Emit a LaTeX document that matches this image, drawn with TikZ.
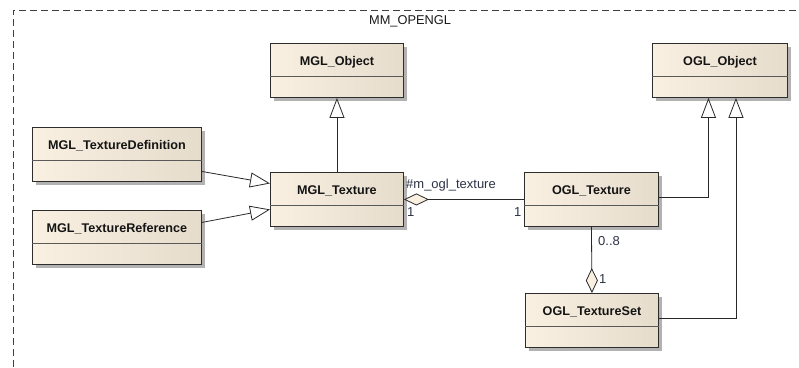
\documentclass[tikz,border=0pt]{standalone}
\usepackage{fontspec}
\setmainfont{Liberation Sans}
\usetikzlibrary{arrows.meta,shadows,calc}

\definecolor{creamL}{RGB}{249,240,226}
\definecolor{creamM}{RGB}{251,245,235}
\definecolor{creamR}{RGB}{230,220,204}
\definecolor{edge}{RGB}{45,45,45}
\definecolor{wire}{RGB}{40,40,40}
\definecolor{labelink}{RGB}{45,50,70}

\tikzset{
  umlbox/.style={draw=edge, line width=0.9pt, rectangle, anchor=north west,
    left color=creamL, middle color=creamM, right color=creamR, shading angle=90,
    minimum width=#1, minimum height=54pt, inner sep=0pt,
    drop shadow={shadow xshift=3.5pt, shadow yshift=-3.5pt, fill=black!30, opacity=1}},
  umlbox/.default=133pt,
  clsname/.style={font=\bfseries\fontsize{12.6}{14}\selectfont, text=black!92, inner sep=0pt},
  divider/.style={draw=black!65, line width=0.9pt},
  wireline/.style={draw=wire, line width=0.8pt},
  gen/.style={wireline, -{Triangle[open, length=20pt, width=15pt, fill=white]}},
  agg/.style={wireline, {Diamond[open, length=25pt, width=12pt, fill=creamL]}-},
  role/.style={font=\fontsize{13}{15}\selectfont, text=labelink, inner sep=0pt},
  frame/.style={draw=black!75, line width=0.8pt, dash pattern=on 7pt off 4pt},
}

\begin{document}
\begin{tikzpicture}[x=1pt, y=-1pt]
  \useasboundingbox (0,0) rectangle (799,367);

  % package frame (runs past the right and bottom edges)
  \draw[frame] (13,367) -- (13,10) -- (805,10);
  \node[font=\fontsize{12.8}{15}\selectfont, text=black!90, inner sep=0pt] (pkg) at (410,21) {MM\_OPENGL};

  % classes
  \node[umlbox] (mglobj) at (270,43) {};
  \node[umlbox=135pt] (oglobj) at (652,43) {};
  \node[umlbox=169pt] (mgldef) at (32,127) {};
  \node[umlbox=169pt] (mglref) at (32,210) {};
  \node[umlbox] (mgltex) at (270,172) {};
  \node[umlbox=134pt] (ogltex) at (524,172) {};
  \node[umlbox=133pt] (ogltexset) at (525,293) {};

  % name compartments
  \foreach \c/\t in {mglobj/MGL\_Object, oglobj/OGL\_Object, mgldef/MGL\_TextureDefinition,
                     mglref/MGL\_TextureReference, mgltex/MGL\_Texture, ogltex/OGL\_Texture,
                     ogltexset/OGL\_TextureSet}{
    \draw[divider] ($(\c.north west)+(0,33)$) -- ($(\c.north east)+(0,33)$);
    \node[clsname] (\c-name) at ($(\c.north)+(0,19)$) {\t};
  }

  % generalizations
  \draw[gen] (mgltex.north) -- (mglobj.south);
  \draw[gen] ([yshift=-17pt]mgldef.east) -- ([yshift=16pt]mgltex.west);
  \draw[gen] ([yshift=15pt]mglref.east) -- ([yshift=-10pt]mgltex.west);
  \draw[gen] ([yshift=2pt]ogltex.east) -| ([xshift=-11.5pt]oglobj.south);
  \draw[gen] ([yshift=2pt]ogltexset.east) -| ([xshift=16pt]oglobj.south);

  % aggregations
  \draw[agg] (mgltex.east) -- (ogltex.west);
  \draw[agg] (ogltexset.north) -- (ogltex.south);

  % role names and multiplicities
  \node[role, anchor=west] (rname) at (406,185) {\#m\_ogl\_texture};
  \node[role, anchor=west] (m1a) at (407,212) {1};
  \node[role, anchor=west] (m1b) at (514,212) {1};
  \node[role, anchor=west] (m08) at (598,241) {0..8};
  \node[role, anchor=west] (m1c) at (599,279) {1};
\end{tikzpicture}
\end{document}
